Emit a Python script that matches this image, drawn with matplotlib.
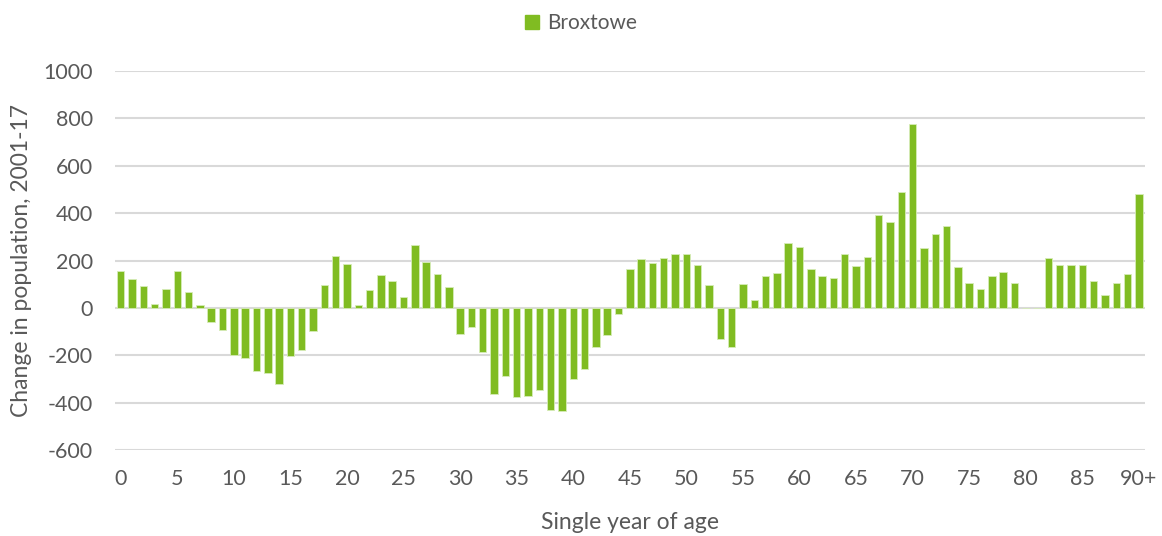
import matplotlib.pyplot as plt
from matplotlib.patches import Patch

plt.rcParams['font.family'] = ['Lato', 'DejaVu Sans']
plt.rcParams['axes.unicode_minus'] = False

ages = list(range(91))
age_labels = ['0', '5', '10', '15', '20', '25', '30', '35', '40', '45',
              '50', '55', '60', '65', '70', '75', '80', '85', '90+']

# change in population 2001-17, single year of age 0..90+
change = [156, 122, 94, 17, 80, 157, 69, 14, -59, -94,
          -199, -211, -265, -275, -320, -203, -177, -98, 98, 220,
          184, 14, 76, 138, 112, 46, 264, 194, 142, 87,
          -109, -79, -188, -362, -289, -378, -371, -348, -432, -435,
          -302, -257, -167, -114, -24, 166, 205, 188, 212, 226,
          229, 180, 95, -132, -167, 100, 34, 136, 146, 275,
          258, 166, 133, 126, 226, 177, 216, 393, 364, 491,
          778, 254, 313, 345, 174, 107, 80, 133, 153, 107,
          1, 0, 212, 180, 182, 182, 112, 55, 104, 142,
          480]

green = '#80bc22'
grey = '#595959'

fig = plt.figure(figsize=(11.62, 5.36), dpi=100)
ax = fig.add_axes([0.099, 0.1604, 0.886, 0.7071])

ax.bar(ages, change, width=0.66, color=green, edgecolor='#d6ecb8', linewidth=0.6, zorder=3)

ax.set_xlim(-0.5, 90.5)
ax.set_ylim(-600, 1000)
ax.set_yticks(range(-600, 1001, 200))
ax.set_xticks(range(0, 91, 5))
ax.set_xticklabels(age_labels)
ax.yaxis.grid(True, color='#d9d9d9', linewidth=1.5, zorder=0)
ax.set_axisbelow(True)
for s in ax.spines.values():
    s.set_visible(False)
ax.tick_params(axis='both', length=0, labelsize=15.5, colors=grey)
ax.tick_params(axis='x', pad=14)
ax.tick_params(axis='y', pad=16)

ax.set_xlabel('Single year of age', fontsize=16.5, color=grey, labelpad=16)
ax.set_ylabel('Change in population, 2001-17', fontsize=16.5, color=grey, labelpad=8)

fig.legend(handles=[Patch(color=green, label='Broxtowe')], loc='upper center',
           bbox_to_anchor=(0.5, 1.01), frameon=False, fontsize=15,
           handlelength=0.7, handleheight=0.7, handletextpad=0.4,
           labelcolor=grey)

fig.savefig('out.png', dpi=100)
